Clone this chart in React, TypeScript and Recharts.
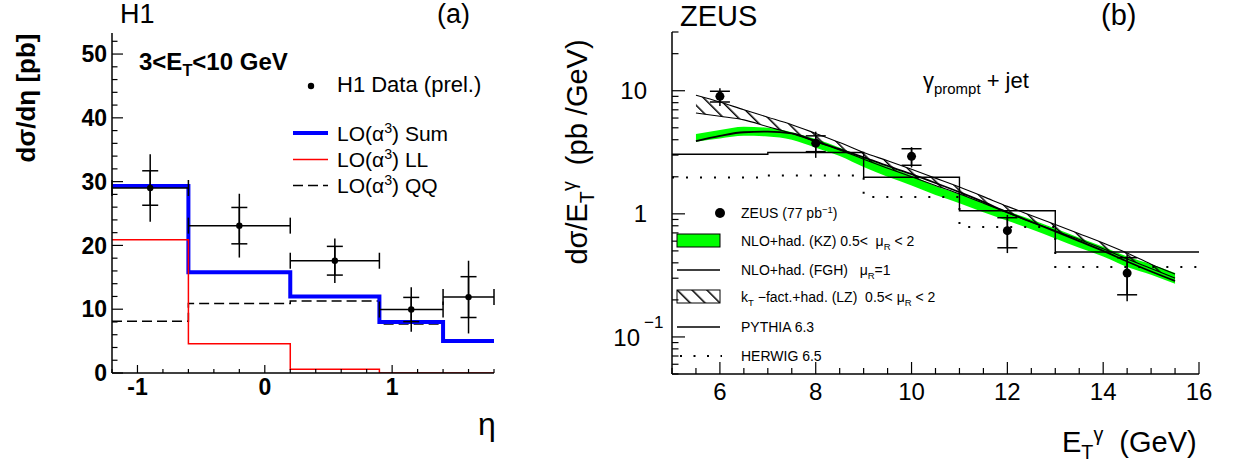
import React from "react";
import { ComposedChart, Line, Area, Scatter, ErrorBar, XAxis, YAxis } from "recharts";

// ---------- panel (a): H1, dsigma/deta ----------
const etaEdges = [-1.2, -0.6, 0.2, 0.9, 1.4, 1.8];
const loSum = [29.3, 15.8, 12.0, 8.0, 5.0];
const loLL = [20.9, 4.6, 0.6, 0.0, 0.0];
const loQQ = [8.1, 10.9, 11.3, 7.7, 5.0];

const h1Eta = [-0.9, -0.2, 0.55, 1.15, 1.6];
const h1EtaHalf = [0.3, 0.4, 0.35, 0.25, 0.2];
const h1Xsec = [29.0, 23.1, 17.6, 9.95, 11.9];
const h1Stat = [2.7, 2.85, 2.25, 1.9, 3.2];
const h1Tot = [5.3, 5.0, 3.5, 3.5, 5.7];

const etaTicks = [-1.2, -1, -0.8, -0.6, -0.4, -0.2, 0, 0.2, 0.4, 0.6, 0.8, 1, 1.2, 1.4, 1.6, 1.8];
const etaMajor = [-1, 0, 1];
const dsTicks = [0, 2, 4, 6, 8, 10, 12, 14, 16, 18, 20, 22, 24, 26, 28, 30, 32, 34, 36, 38, 40, 42, 44, 46, 48, 50, 52];
const dsMajor = [0, 10, 20, 30, 40, 50];

// ---------- panel (b): ZEUS, dsigma/dEt ----------
const etBins = [5, 7, 9, 11, 13, 16];
const pythia = [3.05, 3.15, 1.98, 1.06, 0.49];
const herwig = [1.97, 2.05, 1.37, 0.78, 0.37];

const etGrid = [5.5, 6, 6.5, 7, 7.5, 8, 8.5, 9, 9.5, 10, 10.5, 11, 11.5, 12, 12.5, 13, 13.5, 14, 14.5, 15, 15.5];
const kzLow = [3.85, 4.1, 4.3, 4.25, 4.0, 3.45, 2.95, 2.4, 2.0, 1.7, 1.42, 1.22, 1.03, 0.88, 0.75, 0.63, 0.53, 0.45, 0.37, 0.32, 0.27];
const kzHigh = [4.45, 4.8, 5.1, 5.0, 4.6, 4.05, 3.45, 2.85, 2.4, 2.05, 1.68, 1.45, 1.23, 1.05, 0.9, 0.76, 0.64, 0.54, 0.45, 0.39, 0.33];
const lzLow = [6.6, 6.2, 5.8, 5.1, 4.5, 3.85, 3.3, 2.78, 2.35, 2.0, 1.7, 1.45, 1.22, 1.02, 0.86, 0.73, 0.62, 0.52, 0.43, 0.36, 0.3];
const lzHigh = [9.2, 8.1, 7.0, 6.1, 5.3, 4.5, 3.8, 3.15, 2.7, 2.3, 1.95, 1.65, 1.38, 1.15, 0.97, 0.82, 0.69, 0.58, 0.48, 0.39, 0.325];
const fgh = [3.9, 4.3, 4.6, 4.65, 4.5, 3.9, 3.35, 2.88, 2.45, 2.1, 1.78, 1.5, 1.25, 1.03, 0.86, 0.72, 0.6, 0.5, 0.41, 0.34, 0.285];

const zeusEt = [6, 8, 10, 12, 14.5];
const zeusXsec = [9.0, 3.75, 2.93, 0.73, 0.33];
const zeusStat = [0.9, 0.55, 0.45, 0.2, 0.11];
const zeusTot = [1.5, 0.9, 0.55, 0.25, 0.135];

const etTicks = [5, 5.5, 6, 6.5, 7, 7.5, 8, 8.5, 9, 9.5, 10, 10.5, 11, 11.5, 12, 12.5, 13, 13.5, 14, 14.5, 15, 15.5, 16];
const etMajor = [6, 8, 10, 12, 14, 16];
const logTicks = [0.05, 0.06, 0.07, 0.08, 0.09, 0.1, 0.2, 0.3, 0.4, 0.5, 0.6, 0.7, 0.8, 0.9, 1, 2, 3, 4, 5, 6, 7, 8, 9, 10, 20, 30];
const logMajor = [0.1, 1, 10];

const FONT = '"Liberation Sans", Arial, Helvetica, sans-serif';

const steps = (edges: number[], vals: number[]) =>
  edges.map((x, i) => ({ x, y: vals[Math.min(i, vals.length - 1)] }));

const h1Rows = h1Eta.map((x, i) => ({ x, y: h1Xsec[i], stat: h1Stat[i], tot: h1Tot[i], ex: h1EtaHalf[i] }));
const zeusRows = zeusEt.map((x, i) => ({ x, y: zeusXsec[i], stat: zeusStat[i], tot: zeusTot[i] }));
const curveRows = etGrid.map((x, i) => ({ x, kz: [kzLow[i], kzHigh[i]], lz: [lzLow[i], lzHigh[i]], fgh: fgh[i] }));

type Side = "bottom" | "top" | "left" | "right";

// ROOT-style ticks pointing into the frame
function inwardTick(
  side: Side,
  majors: number[],
  majorLen: number,
  minorLen: number,
  label?: (v: number, x: number, y: number) => React.ReactNode
) {
  return (props: any) => {
    const { x, y, payload } = props;
    const v = payload.value as number;
    const major = majors.some((m) => Math.abs(m - v) < 1e-9);
    const len = major ? majorLen : minorLen;
    let x2 = x;
    let y2 = y;
    if (side === "bottom") y2 = y - len;
    if (side === "top") y2 = y + len;
    if (side === "left") x2 = x + len;
    if (side === "right") x2 = x - len;
    return (
      <g>
        <line x1={x} y1={y} x2={x2} y2={y2} stroke="#000" strokeWidth={1.2} />
        {major && label ? label(v, x, y) : null}
      </g>
    );
  };
}

const frame = { stroke: "#000", strokeWidth: 1.5 };

const Sub = ({ children }: { children: React.ReactNode }) => (
  <span style={{ fontSize: "0.68em", position: "relative", top: "0.38em" }}>{children}</span>
);
const Sup = ({ children }: { children: React.ReactNode }) => (
  <span style={{ fontSize: "0.68em", position: "relative", top: "-0.55em" }}>{children}</span>
);

const abs = (s: React.CSSProperties): React.CSSProperties => ({
  position: "absolute",
  whiteSpace: "nowrap",
  lineHeight: 1,
  fontFamily: FONT,
  color: "#000",
  ...s,
});

const Hatch = ({ id }: { id: string }) => (
  <pattern id={id} width="10.5" height="10.5" patternUnits="userSpaceOnUse" patternTransform="rotate(-45)">
    <rect x="0" y="0" width="1.5" height="10.5" fill="#000" />
  </pattern>
);

function PanelA() {
  return (
    <ComposedChart width={560} height={466} margin={{ top: 33, right: 66, bottom: 53, left: 12 }}>
      <XAxis
        dataKey="x"
        type="number"
        domain={[-1.2, 1.8]}
        allowDataOverflow
        ticks={etaTicks}
        interval={0}
        height={40}
        tickSize={0}
        tickMargin={0}
        tickLine={false}
        axisLine={frame}
        tick={inwardTick("bottom", etaMajor, 8, 4, (v, x, y) => (
          <text x={x} y={y + 22} textAnchor="middle" fontFamily={FONT} fontWeight="bold" fontSize={23}>
            {v}
          </text>
        ))}
      />
      <XAxis xAxisId="top" orientation="top" dataKey="x" type="number" domain={[-1.2, 1.8]} height={0} tick={false} tickLine={false} axisLine={frame} />
      <YAxis
        type="number"
        domain={[0, 53.3]}
        allowDataOverflow
        ticks={dsTicks}
        interval={0}
        width={100}
        tickSize={0}
        tickMargin={0}
        tickLine={false}
        axisLine={frame}
        tick={inwardTick("left", dsMajor, 11, 5.5, (v, x, y) => (
          <text x={x - 5} y={y} dy="0.36em" textAnchor="end" fontFamily={FONT} fontWeight="bold" fontSize={23}>
            {v}
          </text>
        ))}
      />
      <YAxis yAxisId="right" orientation="right" type="number" domain={[0, 53.3]} width={0} tick={false} tickLine={false} axisLine={frame} />

      <Line data={steps(etaEdges, loQQ)} dataKey="y" type="stepAfter" stroke="#000" strokeWidth={1.5} strokeDasharray="10 5" dot={false} activeDot={false} isAnimationActive={false} />
      <Line data={steps(etaEdges, loSum)} dataKey="y" type="stepAfter" stroke="#0000ff" strokeWidth={4} dot={false} activeDot={false} isAnimationActive={false} />
      <Line data={steps(etaEdges, loLL)} dataKey="y" type="stepAfter" stroke="#ff0000" strokeWidth={1.5} dot={false} activeDot={false} isAnimationActive={false} />

      <Scatter
        data={h1Rows}
        dataKey="y"
        isAnimationActive={false}
        shape={(p: any) => <circle cx={p.cx} cy={p.cy} r={3.2} fill="#000" />}
      >
        <ErrorBar dataKey="tot" direction="y" width={0} stroke="#000" strokeWidth={1.5} />
        <ErrorBar dataKey="stat" direction="y" width={8} stroke="#000" strokeWidth={1.5} />
        <ErrorBar dataKey="ex" direction="x" width={8} stroke="#000" strokeWidth={1.5} />
      </Scatter>
    </ComposedChart>
  );
}

function PanelB() {
  return (
    <ComposedChart width={673} height={466} data={curveRows} margin={{ top: 32, right: 34, bottom: 52, left: 52 }}>
      <defs>
        <Hatch id="lzHatch" />
      </defs>
      <XAxis
        dataKey="x"
        type="number"
        domain={[5, 16]}
        allowDataOverflow
        ticks={etTicks}
        interval={0}
        height={40}
        tickSize={0}
        tickMargin={0}
        tickLine={false}
        axisLine={frame}
        tick={inwardTick("bottom", etMajor, 12, 6, (v, x, y) => (
          <text x={x} y={y + 26} textAnchor="middle" fontFamily={FONT} fontSize={24}>
            {v}
          </text>
        ))}
      />
      <XAxis
        xAxisId="top"
        orientation="top"
        dataKey="x"
        type="number"
        domain={[5, 16]}
        allowDataOverflow
        ticks={etTicks}
        interval={0}
        height={0}
        tickSize={0}
        tickMargin={0}
        tickLine={false}
        axisLine={frame}
        tick={inwardTick("top", etMajor, 11, 6)}
      />
      <YAxis
        type="number"
        scale="log"
        domain={[0.05, 30]}
        allowDataOverflow
        ticks={logTicks}
        interval={0}
        width={60}
        tickSize={0}
        tickMargin={0}
        tickLine={false}
        axisLine={frame}
        tick={inwardTick("left", logMajor, 13, 6.5, (v, x, y) =>
          v === 0.1 ? (
            <g fontFamily={FONT}>
              <text x={x - 32} y={y} dy="0.36em" textAnchor="end" fontSize={24}>10</text>
              <text x={x - 28} y={y - 9} fontSize={17}>−1</text>
            </g>
          ) : (
            <text x={x - 25} y={y} dy="0.36em" textAnchor="end" fontFamily={FONT} fontSize={24}>
              {v}
            </text>
          )
        )}
      />
      <YAxis
        yAxisId="right"
        orientation="right"
        type="number"
        scale="log"
        domain={[0.05, 30]}
        allowDataOverflow
        ticks={logTicks}
        interval={0}
        width={0}
        tickSize={0}
        tickMargin={0}
        tickLine={false}
        axisLine={frame}
        tick={inwardTick("right", logMajor, 13, 6.5)}
      />

      <Area dataKey="kz" type="monotone" fill="#00ff00" fillOpacity={1} stroke="none" isAnimationActive={false} activeDot={false} />
      <Area dataKey="lz" type="monotone" fill="url(#lzHatch)" fillOpacity={1} stroke="#000" strokeWidth={1.1} isAnimationActive={false} activeDot={false} />
      <Line dataKey="fgh" type="monotone" stroke="#000" strokeWidth={1.8} dot={false} activeDot={false} isAnimationActive={false} />
      <Line data={steps(etBins, pythia)} dataKey="y" type="stepAfter" stroke="#000" strokeWidth={1.4} dot={false} activeDot={false} isAnimationActive={false} />
      <Line data={steps(etBins, herwig)} dataKey="y" type="stepAfter" stroke="#000" strokeWidth={2} strokeDasharray="2 12" dot={false} activeDot={false} isAnimationActive={false} />

      <Scatter
        data={zeusRows}
        dataKey="y"
        isAnimationActive={false}
        shape={(p: any) => <circle cx={p.cx} cy={p.cy} r={4.5} fill="#000" />}
      >
        <ErrorBar dataKey="tot" direction="y" width={0} stroke="#000" strokeWidth={1.5} />
        <ErrorBar dataKey="stat" direction="y" width={10} stroke="#000" strokeWidth={1.5} />
      </Scatter>
    </ComposedChart>
  );
}

export default function App() {
  return (
    <div style={{ position: "absolute", left: 0, top: 0, width: 1233, height: 466, background: "#fff", overflow: "hidden" }}>
      <div style={{ position: "absolute", left: 0, top: 0 }}>
        <PanelA />
      </div>
      <div style={{ position: "absolute", left: 560, top: 0 }}>
        <PanelB />
      </div>

      {/* legend symbols */}
      <svg width={1233} height={466} style={{ position: "absolute", left: 0, top: 0, pointerEvents: "none" }}>
        <defs>
          <Hatch id="legHatch" />
        </defs>
        <circle cx={311} cy={86} r={3.2} fill="#000" />
        <line x1={293} y1={133} x2={328} y2={133} stroke="#0000ff" strokeWidth={4} />
        <line x1={293} y1={159.5} x2={328} y2={159.5} stroke="#ff0000" strokeWidth={1.5} />
        <line x1={293} y1={185.5} x2={328} y2={185.5} stroke="#000" strokeWidth={1.5} strokeDasharray="10 5" />

        <circle cx={720} cy={213} r={5} fill="#000" />
        <rect x={677} y={234} width={43} height={13} fill="#00ff00" stroke="#000" strokeWidth={1} />
        <line x1={677} y1={270} x2={720} y2={270} stroke="#000" strokeWidth={1.3} />
        <rect x={677} y={290} width={43} height={13} fill="url(#legHatch)" stroke="#000" strokeWidth={1} />
        <line x1={677} y1={327} x2={720} y2={327} stroke="#000" strokeWidth={1.3} />
        <line x1={680} y1={356} x2={722} y2={356} stroke="#000" strokeWidth={2} strokeDasharray="2 11.5" />
      </svg>

      {/* panel (a) texts */}
      <div style={abs({ left: 120, top: 1, fontSize: 27 })}>H1</div>
      <div style={abs({ left: 437, top: 1, fontSize: 27 })}>(a)</div>
      <div style={abs({ left: 139, top: 50, fontSize: 24, fontWeight: "bold" })}>
        3&lt;E<Sub>T</Sub>&lt;10 GeV
      </div>
      <div style={abs({ left: 337, top: 74, fontSize: 22 })}>H1 Data (prel.)</div>
      <div style={abs({ left: 337, top: 123, fontSize: 21 })}>
        LO(α<Sup>3</Sup>) Sum
      </div>
      <div style={abs({ left: 337, top: 149, fontSize: 21 })}>
        LO(α<Sup>3</Sup>) LL
      </div>
      <div style={abs({ left: 337, top: 175, fontSize: 21 })}>
        LO(α<Sup>3</Sup>) QQ
      </div>
      <div style={abs({ left: 26, top: 98, fontSize: 26, fontWeight: "bold", transform: "translate(-50%, -50%) rotate(-90deg)" })}>
        dσ/dη [pb]
      </div>
      <div style={abs({ left: 478, top: 408, fontSize: 32 })}>η</div>

      {/* panel (b) texts */}
      <div style={abs({ left: 680, top: 2, fontSize: 29 })}>ZEUS</div>
      <div style={abs({ left: 1101, top: 1, fontSize: 29 })}>(b)</div>
      <div style={abs({ left: 923, top: 70, fontSize: 22 })}>
        γ<Sub>prompt</Sub> + jet
      </div>
      <div style={abs({ left: 577, top: 152, fontSize: 29, transform: "translate(-50%, -50%) rotate(-90deg)" })}>
        dσ/E<Sub>T</Sub>
        <Sup>γ</Sup>&nbsp;&nbsp;(pb /GeV)
      </div>
      <div style={abs({ left: 1062, top: 428, fontSize: 29 })}>
        E<Sub>T</Sub>
        <Sup>γ</Sup>&nbsp;&nbsp;(GeV)
      </div>

      <div style={abs({ left: 741, top: 206, fontSize: 14 })}>
        ZEUS (77 pb<Sup>−1</Sup>)
      </div>
      <div style={abs({ left: 741, top: 234, fontSize: 14 })}>
        NLO+had. (KZ) 0.5&lt;&nbsp; μ<Sub>R</Sub> &lt; 2
      </div>
      <div style={abs({ left: 741, top: 263, fontSize: 14 })}>
        NLO+had. (FGH)&nbsp;&nbsp; μ<Sub>R</Sub>=1
      </div>
      <div style={abs({ left: 741, top: 290, fontSize: 14 })}>
        k<Sub>T</Sub> −fact.+had. (LZ)&nbsp; 0.5&lt; μ<Sub>R</Sub> &lt; 2
      </div>
      <div style={abs({ left: 741, top: 320, fontSize: 14 })}>PYTHIA 6.3</div>
      <div style={abs({ left: 741, top: 349, fontSize: 14 })}>HERWIG 6.5</div>
    </div>
  );
}
